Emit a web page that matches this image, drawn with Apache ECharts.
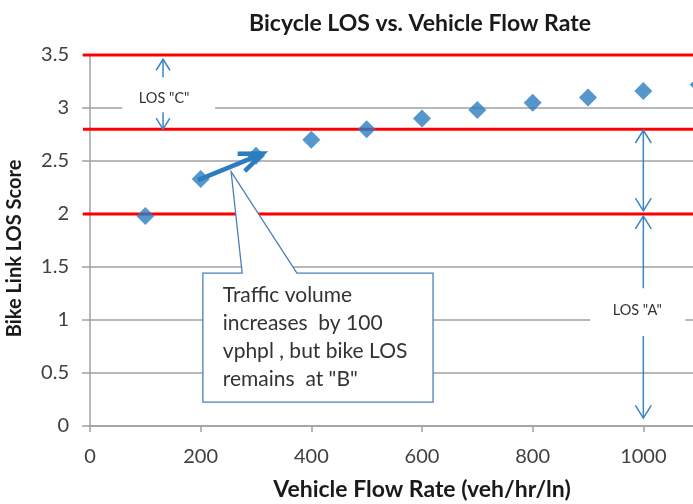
<!DOCTYPE html>
<html>
<head>
<meta charset="utf-8">
<script src="https://cdn.jsdelivr.net/npm/echarts@6/dist/echarts.min.js"></script>
<style>
  html, body { margin: 0; padding: 0; background: #fff; }
  #myChart { width: 693px; height: 504px; }
</style>
</head>
<body>
<div id="myChart"></div>
<script>
// data
var flowRate = [100, 200, 300, 400, 500, 600, 700, 800, 900, 1000, 1100]
var losScore = [1.98, 2.33, 2.55, 2.70, 2.80, 2.90, 2.98, 3.05, 3.10, 3.16, 3.22]
var xTicks = [0, 200, 400, 600, 800, 1000, 1200]
var yTicks = [0, 0.5, 1, 1.5, 2, 2.5, 3, 3.5]
var losBounds = [3.5, 2.8, 2.0] // red LOS limits

var FONT = 'Lato, "Open Sans", sans-serif'
var BLUE = '#2B7CC0'
var THIN = '#3A86C6'

var myChart = echarts.init(document.getElementById('myChart'))

var option = {
  animation: false,
  title: {
    text: 'Bicycle LOS vs. Vehicle Flow Rate',
    left: 415,
    top: 7,
    textAlign: 'center',
    textStyle: { fontFamily: FONT, fontSize: 23, fontWeight: 'bold', color: '#1a1a1a' }
  },
  // plot area continues past the right edge of the picture (cropped original)
  grid: { left: 90, right: -61, top: 55, bottom: 78, containLabel: false, outerBoundsMode: 'none' },
  xAxis: {
    type: 'value',
    min: xTicks[0],
    max: xTicks[xTicks.length - 1],
    interval: xTicks[1] - xTicks[0],
    name: 'Vehicle Flow Rate (veh/hr/ln)',
    nameLocation: 'middle',
    nameGap: 52,
    nameTextStyle: { fontFamily: FONT, fontSize: 23, fontWeight: 'bold', color: '#1a1a1a' },
    axisLine: { onZero: false, lineStyle: { color: '#a0a0a0', width: 1.5 } },
    axisTick: { show: true, length: 6, lineStyle: { color: '#a0a0a0', width: 1.5 } },
    axisLabel: { margin: 21, fontFamily: FONT, fontSize: 20, color: '#404040', formatter: function (v) { return String(v) } },
    splitLine: { show: false }
  },
  yAxis: {
    type: 'value',
    min: yTicks[0],
    max: yTicks[yTicks.length - 1],
    interval: yTicks[1] - yTicks[0],
    name: 'Bike Link LOS Score',
    nameLocation: 'middle',
    nameGap: 65,
    nameTextStyle: { fontFamily: FONT, fontSize: 20, fontWeight: 'bold', color: '#1a1a1a', padding: [0, 16, 0, 0] },
    axisLine: { show: true, lineStyle: { color: '#a0a0a0', width: 1.5 } },
    axisTick: { show: true, length: 8, lineStyle: { color: '#a0a0a0', width: 1.5 } },
    axisLabel: { margin: 21, fontFamily: FONT, fontSize: 20, color: '#404040' },
    splitLine: { show: true, lineStyle: { color: '#a0a0a0', width: 1.5 } }
  },
  series: [{
    name: 'Bike LOS',
    type: 'scatter',
    symbol: 'diamond',
    symbolSize: 18,
    clip: false,
    z: 5,
    itemStyle: { color: BLUE },
    data: flowRate.map(function (v, i) { return [v, losScore[i]] })
  }]
}
myChart.setOption(option)

// annotations, placed in data units
function px (x, y) {
  return myChart.convertToPixel({ gridIndex: 0 }, [x, y])
}
function head (tip, from, len, ang) {
  var dx = from[0] - tip[0], dy = from[1] - tip[1]
  var d = Math.sqrt(dx * dx + dy * dy)
  dx /= d; dy /= d
  var r = ang * Math.PI / 180
  var a = [tip[0] + len * (dx * Math.cos(r) - dy * Math.sin(r)), tip[1] + len * (dx * Math.sin(r) + dy * Math.cos(r))]
  var b = [tip[0] + len * (dx * Math.cos(-r) - dy * Math.sin(-r)), tip[1] + len * (dx * Math.sin(-r) + dy * Math.cos(-r))]
  return [a, tip, b]
}
function line (p1, p2, color, width, z) {
  return { type: 'line', z: z, shape: { x1: p1[0], y1: p1[1], x2: p2[0], y2: p2[1] }, style: { stroke: color, lineWidth: width } }
}
function poly (pts, color, width, z) {
  return { type: 'polyline', z: z, shape: { points: pts }, style: { stroke: color, lineWidth: width, fill: null, lineJoin: 'miter' } }
}
function vArrow (x, y1, y2, len, g) {
  var a = px(x, y1), b = px(x, y2)
  g.push(line(a, b, THIN, 1.5, 6))
  g.push(poly(head(a, b, len, 32), THIN, 1.5, 6))
  g.push(poly(head(b, a, len, 32), THIN, 1.5, 6))
}
function label (txt, cx, cy, x1, x2, y1, y2, g) {
  var p1 = px(x1, y1), p2 = px(x2, y2), c = px(cx, cy)
  g.push({ type: 'rect', z: 7, shape: { x: p1[0], y: p1[1], width: p2[0] - p1[0], height: p2[1] - p1[1] }, style: { fill: '#fff' } })
  g.push({ type: 'text', z: 8, x: c[0], y: c[1], style: { text: txt, fontFamily: FONT, fontSize: 14.5, fill: '#333', align: 'center', verticalAlign: 'middle' } })
}

var g = []
var left = px(0, 0)[0] - 7
var right = myChart.getWidth()
losBounds.forEach(function (v) {
  var y = px(0, v)[1]
  g.push({ type: 'line', z: 3, shape: { x1: left, y1: y, x2: right, y2: y }, style: { stroke: '#ff0000', lineWidth: 3 } })
})

// LOS "C"
vArrow(132, 3.46, 2.80, 13, g)
label('LOS "C"', 134, 3.09, 58, 226, 3.29, 2.96, g)

// LOS "A"
vArrow(1000, 2.79, 2.03, 15, g)
vArrow(1000, 1.98, 0.075, 15, g)
label('LOS "A"', 989, 1.09, 904, 1076, 1.30, 0.85, g)

// thick arrow from 200 to 300 vph
var t0 = px(195, 2.32), t1 = px(312, 2.57)
g.push(line(t0, t1, BLUE, 4.5, 9))
g.push(poly(head(t1, t0, 25, 22), BLUE, 4.5, 9))

// callout box
var c1 = px(204, 1.443), c2 = px(620, 0.226)
var pl = px(275, 1.443), pt = px(255, 2.40), pr = px(374, 1.443)
g.push({
  type: 'polygon', z: 10,
  shape: { points: [c1, pl, pt, pr, [c2[0], c1[1]], c2, [c1[0], c2[1]]] },
  style: { fill: '#fff', stroke: '#4A7EBB', lineWidth: 1.3 }
})
var tp = px(240, 1.37)
g.push({
  type: 'text', z: 11, x: tp[0], y: tp[1],
  style: {
    text: 'Traffic volume\nincreases  by 100\nvphpl , but bike LOS\nremains  at "B"',
    fontFamily: FONT, fontSize: 21, lineHeight: 28, fill: '#333', align: 'left', verticalAlign: 'top'
  }
})

myChart.setOption({ graphic: { elements: g } })
</script>
</body>
</html>
